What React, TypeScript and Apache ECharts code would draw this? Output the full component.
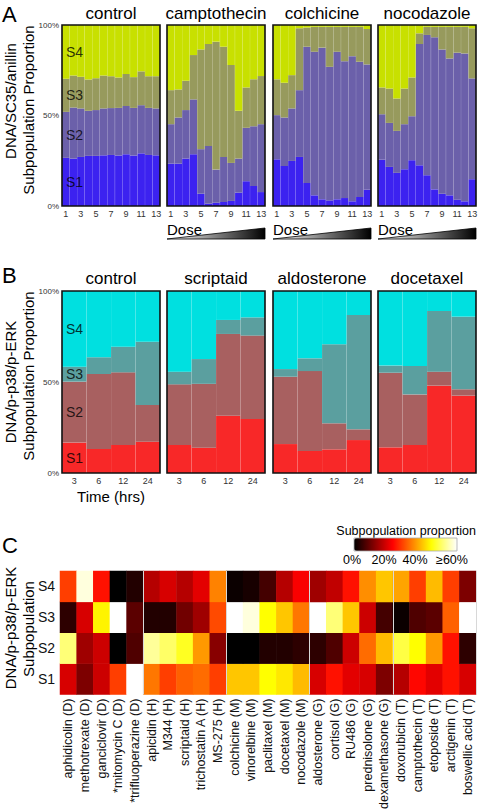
import React, { useEffect, useRef } from 'react';
import * as echarts from 'echarts';

const FONT = '"Liberation Sans", Arial, Helvetica, sans-serif';

const subpops = ['S1', 'S2', 'S3', 'S4'];

// ---------- Panel A (DNA/SC35/anillin), % per dose ----------
const doseLabels = ['1', '2', '3', '4', '5', '6', '7', '8', '9', '10', '11', '12', '13'];
const panelATitles = ['control', 'camptothecin', 'colchicine', 'nocodazole'];
const controlA_S1 = [26.6, 26.2, 27.1, 27.7, 27.7, 28.0, 28.2, 27.9, 28.6, 27.9, 29.1, 28.2, 28.0];
const controlA_S2 = [25.4, 28.2, 26.8, 24.9, 25.3, 25.9, 25.9, 26.3, 26.6, 26.3, 26.6, 26.0, 25.9];
const controlA_S3 = [18.3, 17.7, 17.5, 17.3, 17.6, 18.2, 17.6, 16.8, 17.7, 17.0, 18.7, 17.5, 17.8];
const controlA_S4 = [29.7, 27.9, 28.6, 30.1, 29.4, 27.9, 28.3, 29.0, 27.1, 28.8, 25.6, 28.3, 28.3];
const camptoA_S1 = [23.4, 23.4, 26.2, 28.6, 6.8, 1.3, 1.8, 2.2, 2.8, 7.4, 13.7, 11.1, 7.7];
const camptoA_S2 = [21.8, 25.5, 26.8, 30.3, 24.6, 31.9, 18.3, 24.9, 21.0, 18.8, 29.5, 33.0, 37.5];
const camptoA_S3 = [18.8, 15.5, 16.2, 24.5, 55.1, 56.3, 70.7, 60.9, 54.1, 26.4, 22.3, 25.9, 26.6];
const camptoA_S4 = [36.0, 35.6, 30.8, 16.6, 13.5, 10.5, 9.2, 12.0, 22.1, 47.4, 34.5, 30.0, 28.2];
const colchA_S1 = [25.8, 22.1, 24.9, 27.1, 12.7, 5.9, 3.7, 3.1, 3.7, 4.4, 2.6, 5.0, 9.0];
const colchA_S2 = [24.4, 26.8, 29.0, 36.9, 75.3, 79.3, 83.8, 73.8, 81.5, 75.6, 80.2, 74.7, 69.2];
const colchA_S3 = [19.8, 19.2, 18.4, 34.2, 10.6, 13.8, 11.5, 22.1, 13.8, 19.0, 16.2, 19.3, 19.6];
const colchA_S4 = [30.0, 31.9, 27.7, 1.8, 1.4, 1.0, 1.0, 1.0, 1.0, 1.0, 1.0, 1.0, 2.2];
const nocoA_S1 = [25.6, 21.6, 18.3, 20.3, 25.3, 22.5, 17.0, 9.2, 6.8, 5.9, 3.5, 2.6, 14.8];
const nocoA_S2 = [25.1, 24.3, 23.2, 24.9, 24.3, 67.0, 77.5, 84.0, 79.7, 75.6, 81.2, 81.7, 55.7];
const nocoA_S3 = [14.8, 19.0, 17.9, 19.7, 21.4, 5.9, 4.5, 5.8, 12.5, 17.5, 14.3, 14.7, 27.7];
const nocoA_S4 = [34.5, 35.1, 40.6, 35.1, 29.0, 4.6, 1.0, 1.0, 1.0, 1.0, 1.0, 1.0, 1.8];

// ---------- Panel B (DNA/p-p38/p-ERK), % per time ----------
const timeLabels = ['3', '6', '12', '24'];
const panelBTitles = ['control', 'scriptaid', 'aldosterone', 'docetaxel'];
const controlB_S1 = [16.7, 13.2, 15.4, 17.2];
const controlB_S2 = [33.5, 41.2, 39.9, 20.2];
const controlB_S3 = [8.2, 9.2, 14.1, 34.7];
const controlB_S4 = [41.6, 36.4, 30.6, 27.9];
const scriptB_S1 = [15.4, 13.9, 31.5, 29.7];
const scriptB_S2 = [33.3, 35.1, 44.9, 45.8];
const scriptB_S3 = [7.0, 13.6, 7.7, 10.0];
const scriptB_S4 = [44.3, 37.4, 15.9, 14.5];
const aldoB_S1 = [15.9, 12.1, 13.0, 18.1];
const aldoB_S2 = [37.0, 43.9, 14.3, 5.9];
const aldoB_S3 = [4.2, 7.0, 43.4, 62.8];
const aldoB_S4 = [42.9, 37.0, 29.3, 13.2];
const docB_S1 = [14.1, 15.4, 48.0, 42.5];
const docB_S2 = [41.0, 27.8, 7.7, 3.5];
const docB_S3 = [3.9, 15.6, 33.3, 39.9];
const docB_S4 = [41.0, 41.2, 11.0, 14.1];

// ---------- Panel C heatmap (% subpopulation proportion) ----------
const drugs = [
  'aphidicolin (D)', 'methotrexate (D)', 'ganciclovir (D)', '*mitomycin C (D)', '*trifluoperazine (D)',
  'apicidin (H)', 'M344 (H)', 'scriptaid (H)', 'trichostatin A (H)', 'MS-275 (H)',
  'colchicine (M)', 'vinorelbine (M)', 'paclitaxel (M)', 'docetaxel (M)', 'nocodazole (M)',
  'aldosterone (G)', 'cortisol (G)', 'RU486 (G)', 'prednisolone (G)', 'dexamethasone (G)',
  'doxorubicin (T)', 'camptothecin (T)', 'etoposide (T)', 'arctigenin (T)', 'boswellic acid (T)',
];
const heatS4 = [28, 58, 24, 0, 3, 16, 19, 16, 20, 34, 1, 2, 6, 16, 22, 14, 17, 24, 35, 40, 37, 28, 39, 28, 11];
const heatS3 = [4, 19, 44, 60, 8, 3, 3, 10, 14, 29, 60, 58, 45, 40, 33, 60, 52, 40, 18, 6, 1, 7, 8, 31, 60];
const heatS2 = [52, 14, 18, 0, 7, 54, 51, 47, 36, 12, 0, 0, 3, 3, 4, 4, 7, 18, 32, 39, 49, 45, 36, 24, 4];
const heatS1 = [19, 11, 18, 28, 60, 33, 28, 31, 32, 28, 40, 40, 45, 43, 39, 19, 24, 20, 19, 11, 16, 23, 20, 24, 19];
const colorbarTicks = ['0%', '20%', '40%', '≥60%'];

const colorsA = ['#3c22f0', '#6b60aa', '#979a5d', '#c8e000'];
const colorsB = ['#f82828', '#a86060', '#5b9f9f', '#00e0e0'];
const hotColors = ['#000000', '#550000', '#aa0000', '#ff0000', '#ff5500', '#ffaa00', '#ffff00', '#ffff80', '#ffffff'];

function buildOption() {
  const gridLefts = [62, 167, 273, 378];
  const gridW = 98;
  const grids: any[] = [];
  const xAxes: any[] = [];
  const yAxes: any[] = [];
  const series: any[] = [];
  const graphic: any[] = [];

  const text = (t: string, x: number, y: number, size: number, opts: any = {}) => ({
    type: 'text',
    x,
    y,
    rotation: opts.rotation || 0,
    silent: true,
    style: {
      text: t,
      fontSize: size,
      fontFamily: FONT,
      fill: opts.fill || '#000',
      align: opts.align || 'center',
      textAlign: opts.align || 'center',
      verticalAlign: 'middle',
      textVerticalAlign: 'middle',
    },
  });

  const addPanel = (
    data: number[][][],
    titles: string[],
    xLabels: string[],
    colors: string[],
    top: number,
    height: number,
    labelInterval: number,
    titleY: number,
    xName: string
  ) => {
    data.forEach((rows, t) => {
      grids.push({
        left: gridLefts[t], top, width: gridW, height,
        show: true, borderColor: '#111', borderWidth: 1.6, backgroundColor: 'transparent', z: 10,
      });
      const gi = grids.length - 1;
      xAxes.push({
        type: 'category', gridIndex: gi, data: xLabels, z: 5,
        axisLine: { show: false }, axisTick: { show: false },
        axisLabel: { interval: labelInterval, fontSize: 9, color: '#333', margin: 3, fontFamily: FONT },
        splitLine: { show: true, interval: 0, lineStyle: { color: 'rgba(255,255,255,0.07)', width: 1 } },
        name: t === 0 ? xName : '',
        nameLocation: 'middle', nameGap: 16,
        nameTextStyle: { fontSize: 15, color: '#000', fontFamily: FONT },
      });
      yAxes.push({
        type: 'value', gridIndex: gi, min: 0, max: 100, interval: 50,
        splitLine: { show: false }, axisLine: { show: false }, axisTick: { show: false },
        axisLabel: { show: t === 0, formatter: '{value}%', fontSize: 8, color: '#333', margin: 3, fontFamily: FONT },
      });
      rows.forEach((vals, s) => {
        series.push({
          type: 'bar', xAxisIndex: gi, yAxisIndex: gi, stack: 'st' + gi,
          barCategoryGap: '0%', itemStyle: { color: colors[s] },
          data: vals.map((v, j) =>
            t === 0 && j === 0
              ? {
                  value: v,
                  label: {
                    show: true, position: 'insideLeft', distance: 4, formatter: subpops[s],
                    fontSize: 14, color: 'rgba(0,0,0,0.8)', fontFamily: FONT,
                  },
                }
              : v
          ),
        });
      });
      graphic.push(text(titles[t], gridLefts[t] + gridW / 2, titleY, 17));
    });
  };

  addPanel(
    [
      [controlA_S1, controlA_S2, controlA_S3, controlA_S4],
      [camptoA_S1, camptoA_S2, camptoA_S3, camptoA_S4],
      [colchA_S1, colchA_S2, colchA_S3, colchA_S4],
      [nocoA_S1, nocoA_S2, nocoA_S3, nocoA_S4],
    ],
    panelATitles, doseLabels, colorsA, 25, 181, 1, 13, ''
  );
  addPanel(
    [
      [controlB_S1, controlB_S2, controlB_S3, controlB_S4],
      [scriptB_S1, scriptB_S2, scriptB_S3, scriptB_S4],
      [aldoB_S1, aldoB_S2, aldoB_S3, aldoB_S4],
      [docB_S1, docB_S2, docB_S3, docB_S4],
    ],
    panelBTitles, timeLabels, colorsB, 291, 182, 0, 278, 'Time (hrs)'
  );

  // Dose wedges
  for (let t = 1; t < 4; t++) {
    const l = gridLefts[t];
    const r = gridLefts[t] + gridW;
    graphic.push({
      type: 'polygon', silent: true,
      shape: { points: [[l, 239], [r, 228], [r, 239]] },
      style: {
        fill: new echarts.graphic.LinearGradient(0, 0, 1, 0, [
          { offset: 0, color: '#ffffff' },
          { offset: 1, color: '#000000' },
        ]),
        stroke: '#000', lineWidth: 0.8,
      },
    });
    graphic.push(text('Dose', l, 229, 15, { align: 'left' }));
  }

  // Heatmap
  const hGrid = { left: 60, top: 571, width: 416, height: 125 };
  grids.push(hGrid);
  const hgi = grids.length - 1;
  xAxes.push({
    type: 'category', gridIndex: hgi, data: drugs, z: 10,
    axisLine: { show: false }, axisTick: { show: false },
    axisLabel: { interval: 0, rotate: 90, fontSize: 12.5, color: '#111', margin: 4, fontFamily: FONT },
    splitLine: {
      show: true,
      interval: (i: number) => i > 0 && i % 5 === 0,
      lineStyle: { color: '#d8d8d8', width: 1 },
    },
  });
  yAxes.push({
    type: 'category', gridIndex: hgi, data: subpops,
    axisLine: { show: false }, axisTick: { show: false },
    axisLabel: { fontSize: 14, color: '#111', margin: 5, fontFamily: FONT },
    splitLine: { show: false },
  });
  const heatRows = [heatS1, heatS2, heatS3, heatS4];
  const heatData: number[][] = [];
  heatRows.forEach((row, y) => row.forEach((v, x) => heatData.push([x, y, v])));
  series.push({
    type: 'heatmap', xAxisIndex: hgi, yAxisIndex: hgi, data: heatData,
    itemStyle: { borderWidth: 0 },
  });
  const heatIdx = series.length - 1;

  // Colorbar texts
  graphic.push(text('Subpopulation proportion', 476, 531, 12.5, { align: 'right' }));
  const tickX = [352, 384, 415, 452];
  colorbarTicks.forEach((t, i) => graphic.push(text(t, tickX[i], 560, 12.5)));
  graphic.push({
    type: 'rect', silent: true, z: 100,
    shape: { x: 354, y: 538, width: 103, height: 13 },
    style: { fill: 'none', stroke: '#aaa', lineWidth: 0.8 },
  });

  // Panel letters
  graphic.push(text('A', 2, 14, 22, { align: 'left' }));
  graphic.push(text('B', 2, 275, 22, { align: 'left' }));
  graphic.push(text('C', 2, 545, 22, { align: 'left' }));

  // Y titles
  const rot = Math.PI / 2;
  graphic.push(text('DNA/SC35/anillin', 10, 101, 15, { rotation: rot }));
  graphic.push(text('Subpopulation Proportion', 28, 110, 15, { rotation: rot }));
  graphic.push(text('DNA/p-p38/p-ERK', 10, 382, 15, { rotation: rot }));
  graphic.push(text('Subpopulation Proportion', 28, 376, 15, { rotation: rot }));
  graphic.push(text('DNA/p-p38/p-ERK', 10, 628, 15, { rotation: rot }));
  graphic.push(text('Subpopulation', 28, 629, 15, { rotation: rot }));

  return {
    animation: false,
    backgroundColor: '#ffffff',
    textStyle: { fontFamily: FONT },
    grid: grids,
    xAxis: xAxes,
    yAxis: yAxes,
    series,
    visualMap: {
      type: 'continuous', seriesIndex: heatIdx, min: 0, max: 60,
      orient: 'horizontal', left: 354, top: 538, itemWidth: 13, itemHeight: 103,
      calculable: false, padding: 0, text: null, hoverLink: false,
      inRange: { color: hotColors },
    },
    graphic,
  };
}

export default function App() {
  const ref = useRef<HTMLDivElement>(null);
  useEffect(() => {
    const chart = echarts.init(ref.current as HTMLDivElement, null, { renderer: 'svg' });
    chart.setOption(buildOption() as any);
    return () => chart.dispose();
  }, []);
  return <div ref={ref} style={{ position: 'absolute', left: 0, top: 0, width: 484, height: 812 }} />;
}
